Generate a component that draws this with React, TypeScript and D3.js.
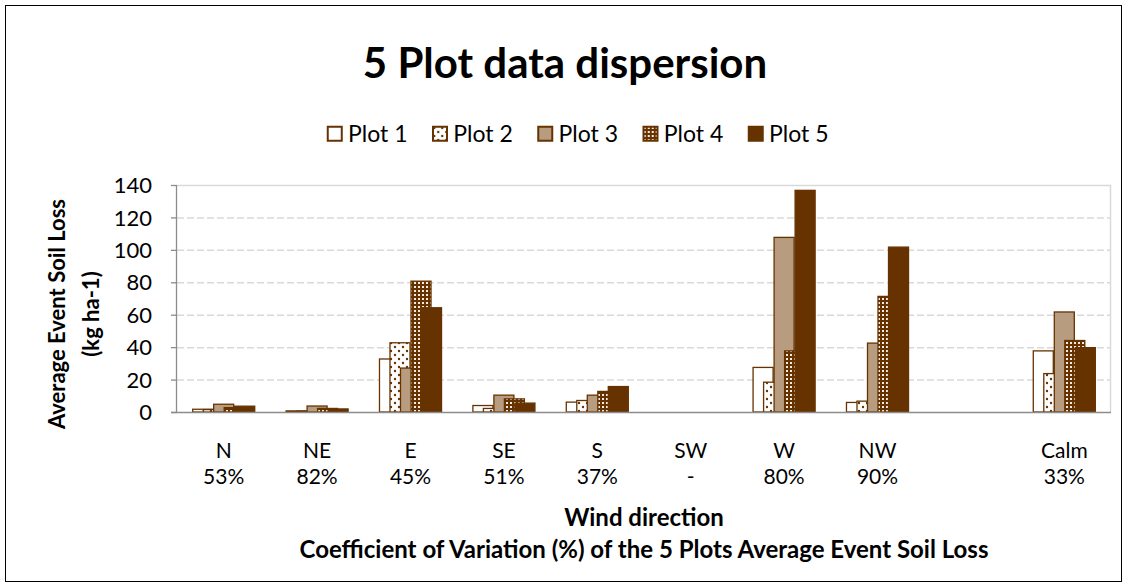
import * as d3 from 'd3';

const categories = ['N', 'NE', 'E', 'SE', 'S', 'SW', 'W', 'NW', '', 'Calm'];
const cvLabels = ['53%', '82%', '45%', '51%', '37%', '-', '80%', '90%', '', '33%'];
const seriesNames = ['Plot 1', 'Plot 2', 'Plot 3', 'Plot 4', 'Plot 5'];

// average event soil loss per wind direction (null = no event)
const plot1 = [2, 1, 33, 4.3, 6.4, null, 27.8, 6.2, null, 38];
const plot2 = [1.8, 0.8, 43, 2.5, 7.4, null, 18.7, 7, null, 24];
const plot3 = [5.1, 4, 27.4, 10.7, 10.7, null, 108, 42.8, null, 62];
const plot4 = [3, 2.5, 81, 8.4, 13, null, 38, 71.6, null, 44.4];
const plot5 = [3.9, 2.2, 64.6, 5.8, 16, null, 137, 102, null, 40];
const yTicks = [0, 20, 40, 60, 80, 100, 120, 140];

const series = [plot1, plot2, plot3, plot4, plot5];

const BROWN = '#663300';
const TAN = '#b89c80';
const fills = ['#ffffff', 'url(#dots)', TAN, 'url(#grid)', BROWN];
const FONT = "Lato, 'Open Sans', sans-serif";

const W = 1128;
const H = 588;
const margin = { top: 185, right: 17, bottom: 176, left: 177 };

export default function App() {
  const innerW = W - margin.left - margin.right;
  const innerH = H - margin.top - margin.bottom;

  const x = d3.scaleBand<string>()
    .domain(categories.map((c, i) => `${i}`))
    .range([0, innerW]);
  const y = d3.scaleLinear().domain([0, 140]).range([innerH, 0]);

  const groupW = x.bandwidth() * 0.675;
  const barW = groupW / 3;
  const step = barW / 2;

  const legendX = d3.scaleLinear().domain([0, 4]).range([327, 748]);

  return (
    <div style={{ position: 'absolute', left: 0, top: 0 }}>
      <svg width={W} height={H} style={{ display: 'block', fontFamily: FONT }}>
        <defs>
          <pattern id="dots" patternUnits="userSpaceOnUse" width="8" height="8">
            <rect width="8" height="8" fill="#fff" />
            <circle cx="2" cy="2" r="1.2" fill={BROWN} />
            <circle cx="6" cy="6" r="1.2" fill={BROWN} />
          </pattern>
          <pattern id="grid" patternUnits="userSpaceOnUse" width="4" height="4">
            <rect width="4" height="4" fill={BROWN} />
            <rect x="1" y="1" width="2" height="2" fill="#f4ece4" />
          </pattern>
        </defs>
        <rect x={0} y={0} width={W} height={H} fill="#fff" />
        <rect x={5.5} y={5.5} width={1116} height={576} fill="none" stroke="#000" strokeWidth={1} />

        <text x={565} y={78} textAnchor="middle" fontSize={42} fontWeight="bold" fill="#000">
          5 Plot data dispersion
        </text>

        {/* legend */}
        {seriesNames.map((name, i) => (
          <g key={name} transform={`translate(${legendX(i)},126)`}>
            <rect x={0.75} y={0.75} width={14} height={14} fill={fills[i]} stroke={BROWN} strokeWidth={2} />
            <text x={21} y={15.5} fontSize={23} fill="#000">{name}</text>
          </g>
        ))}

        <g transform={`translate(${margin.left},${margin.top})`}>
          {/* gridlines */}
          {yTicks.slice(1).map((t) => (
            <line key={t} x1={0} x2={innerW} y1={y(t) + 0.5} y2={y(t) + 0.5}
              stroke="#d9d9d9" strokeWidth={1.5} strokeDasharray={t === 140 ? undefined : '7,3'} />
          ))}
          <line x1={innerW - 0.5} x2={innerW - 0.5} y1={y(140)} y2={innerH} stroke="#d9d9d9" strokeWidth={1.5} />

          {/* bars, later series drawn on top */}
          {series.map((vals, s) => (
            <g key={s}>
              {vals.map((v, i) => v == null ? null : (
                <rect key={i}
                  x={x(`${i}`)! + (x.bandwidth() - groupW) / 2 + s * step + 0.5}
                  y={y(v) + 0.5}
                  width={barW - 1}
                  height={Math.max(innerH - y(v) - 0.5, 0)}
                  fill={fills[s]} stroke={BROWN} strokeWidth={1.3} />
              ))}
            </g>
          ))}

          {/* y axis */}
          <line x1={-0.5} x2={-0.5} y1={0} y2={innerH} stroke="#8c8c8c" strokeWidth={1.3} />
          {yTicks.map((t) => (
            <g key={t} transform={`translate(0,${y(t) + 0.5})`}>
              <line x1={-6} x2={0} stroke="#8c8c8c" strokeWidth={1.3} />
              <text x={-25} dy="0.35em" textAnchor="end" fontSize={22} fill="#000">{t}</text>
            </g>
          ))}
          {/* x axis */}
          <line x1={-6} x2={innerW} y1={innerH + 0.5} y2={innerH + 0.5} stroke="#8c8c8c" strokeWidth={1.5} />
          {categories.map((c, i) => (
            <g key={i} transform={`translate(${x(`${i}`)! + x.bandwidth() / 2},${innerH})`}>
              <text y={46} textAnchor="middle" fontSize={21} fill="#000">{c}</text>
              <text y={72} textAnchor="middle" fontSize={21} fill="#000">{cvLabels[i]}</text>
            </g>
          ))}
        </g>

        {/* axis titles */}
        <text x={margin.left + innerW / 2} y={526} textAnchor="middle" fontSize={24} fontWeight="bold" fill="#000">
          Wind direction
        </text>
        <text x={margin.left + innerW / 2} y={558} textAnchor="middle" fontSize={24} fontWeight="bold" fill="#000">
          Coefficient of Variation (%) of the 5 Plots Average Event Soil Loss
        </text>
        <g transform="translate(0,314) rotate(-90)">
          <text x={0} y={65} textAnchor="middle" fontSize={22} fontWeight="bold" fill="#000">Average Event Soil Loss</text>
          <text x={0} y={99} textAnchor="middle" fontSize={22} fontWeight="bold" fill="#000">(kg ha-1)</text>
        </g>
      </svg>
    </div>
  );
}
